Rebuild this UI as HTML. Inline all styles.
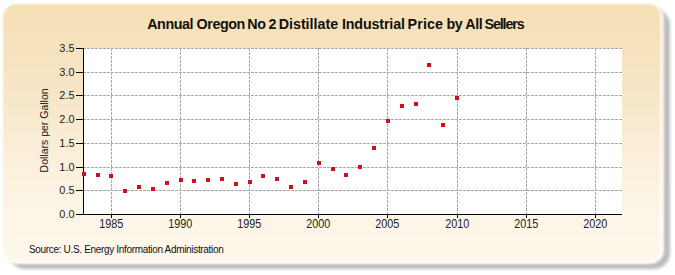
<!DOCTYPE html>
<html><head><meta charset="utf-8"><style>
html,body{margin:0;padding:0;background:#fff;width:675px;height:275px;overflow:hidden}
.box{position:absolute;left:3px;top:3.5px;width:661px;height:260px;border-radius:14px;box-sizing:border-box;
border-right:4px solid rgba(255,255,255,0.65);border-bottom:3.5px solid rgba(255,255,255,0.65);background-origin:border-box;filter:blur(0.9px);
background-image:linear-gradient(#f5dfb4 0%,#f7e6c6 33%,#fbefda 58%,#fdf5e6 80%,#fef8ec 100%);}
.shadow{position:absolute;left:8.5px;top:8.5px;width:661px;height:260px;border-radius:16px;background:rgba(0,0,0,0.26);filter:blur(1.8px)}
svg{position:absolute;left:0;top:0}
.t{font-family:"Liberation Sans",sans-serif;font-size:11px;fill:#222}
.title{font-family:"Liberation Sans",sans-serif;font-size:14.3px;letter-spacing:-0.42px;font-weight:bold;fill:#111}
.src{font-family:"Liberation Sans",sans-serif;font-size:10px;letter-spacing:-0.33px;fill:#111}
</style></head><body>
<div class="shadow"></div><div class="box"></div>
<svg width="675" height="275" viewBox="0 0 675 275">
<g class="title"><text x="147.2" y="28.9">Annual</text><text x="196.6" y="28.9">Oregon</text><text x="247.3" y="28.9">No</text><text x="268.5" y="28.9">2</text><text x="278.7" y="28.9" style="letter-spacing:-0.02px">Distillate</text><text x="341.9" y="28.9" style="letter-spacing:-0.14px">Industrial</text><text x="407.6" y="28.9" style="letter-spacing:0.1px">Price</text><text x="446.4" y="28.9">by</text><text x="465.3" y="28.9">All</text><text x="484.5" y="28.9" style="letter-spacing:-1.12px">Sellers</text></g>
<rect x="83" y="48" width="539" height="166" fill="#fff"/>
<line x1="83" x2="622" y1="190.5" y2="190.5" stroke="#a8a8a8" stroke-width="1" stroke-dasharray="3,1"/>
<line x1="83" x2="622" y1="167.5" y2="167.5" stroke="#a8a8a8" stroke-width="1" stroke-dasharray="3,1"/>
<line x1="83" x2="622" y1="143.5" y2="143.5" stroke="#a8a8a8" stroke-width="1" stroke-dasharray="3,1"/>
<line x1="83" x2="622" y1="119.5" y2="119.5" stroke="#a8a8a8" stroke-width="1" stroke-dasharray="3,1"/>
<line x1="83" x2="622" y1="95.5" y2="95.5" stroke="#a8a8a8" stroke-width="1" stroke-dasharray="3,1"/>
<line x1="83" x2="622" y1="72.5" y2="72.5" stroke="#a8a8a8" stroke-width="1" stroke-dasharray="3,1"/>
<line x1="83" x2="622" y1="48.5" y2="48.5" stroke="#a8a8a8" stroke-width="1" stroke-dasharray="3,1"/>
<line x1="111.5" x2="111.5" y1="48" y2="214" stroke="#a8a8a8" stroke-width="1" stroke-dasharray="3,1"/>
<line x1="180.5" x2="180.5" y1="48" y2="214" stroke="#a8a8a8" stroke-width="1" stroke-dasharray="3,1"/>
<line x1="249.5" x2="249.5" y1="48" y2="214" stroke="#a8a8a8" stroke-width="1" stroke-dasharray="3,1"/>
<line x1="318.5" x2="318.5" y1="48" y2="214" stroke="#a8a8a8" stroke-width="1" stroke-dasharray="3,1"/>
<line x1="387.5" x2="387.5" y1="48" y2="214" stroke="#a8a8a8" stroke-width="1" stroke-dasharray="3,1"/>
<line x1="457.5" x2="457.5" y1="48" y2="214" stroke="#a8a8a8" stroke-width="1" stroke-dasharray="3,1"/>
<line x1="526.5" x2="526.5" y1="48" y2="214" stroke="#a8a8a8" stroke-width="1" stroke-dasharray="3,1"/>
<line x1="595.5" x2="595.5" y1="48" y2="214" stroke="#a8a8a8" stroke-width="1" stroke-dasharray="3,1"/>
<line x1="83.5" x2="83.5" y1="48" y2="215" stroke="#000" stroke-width="1"/>
<line x1="83" x2="622" y1="214.5" y2="214.5" stroke="#000" stroke-width="1"/>
<line x1="76" x2="83" y1="214.5" y2="214.5" stroke="#000" stroke-width="1"/>
<text transform="translate(74.5,217.6) scale(0.95,1)" text-anchor="end" class="t" style="font-size:11.5px">0.0</text>
<line x1="76" x2="83" y1="190.5" y2="190.5" stroke="#000" stroke-width="1"/>
<text transform="translate(74.5,193.6) scale(0.95,1)" text-anchor="end" class="t" style="font-size:11.5px">0.5</text>
<line x1="76" x2="83" y1="167.5" y2="167.5" stroke="#000" stroke-width="1"/>
<text transform="translate(74.5,170.6) scale(0.95,1)" text-anchor="end" class="t" style="font-size:11.5px">1.0</text>
<line x1="76" x2="83" y1="143.5" y2="143.5" stroke="#000" stroke-width="1"/>
<text transform="translate(74.5,146.6) scale(0.95,1)" text-anchor="end" class="t" style="font-size:11.5px">1.5</text>
<line x1="76" x2="83" y1="119.5" y2="119.5" stroke="#000" stroke-width="1"/>
<text transform="translate(74.5,122.6) scale(0.95,1)" text-anchor="end" class="t" style="font-size:11.5px">2.0</text>
<line x1="76" x2="83" y1="95.5" y2="95.5" stroke="#000" stroke-width="1"/>
<text transform="translate(74.5,98.6) scale(0.95,1)" text-anchor="end" class="t" style="font-size:11.5px">2.5</text>
<line x1="76" x2="83" y1="72.5" y2="72.5" stroke="#000" stroke-width="1"/>
<text transform="translate(74.5,75.6) scale(0.95,1)" text-anchor="end" class="t" style="font-size:11.5px">3.0</text>
<line x1="76" x2="83" y1="48.5" y2="48.5" stroke="#000" stroke-width="1"/>
<text transform="translate(74.5,51.6) scale(0.95,1)" text-anchor="end" class="t" style="font-size:11.5px">3.5</text>
<line x1="111.5" x2="111.5" y1="214" y2="218" stroke="#000" stroke-width="1"/>
<text transform="translate(111.2,227.9) scale(0.9,1)" text-anchor="middle" class="t" style="font-size:12px">1985</text>
<line x1="180.5" x2="180.5" y1="214" y2="218" stroke="#000" stroke-width="1"/>
<text transform="translate(180.2,227.9) scale(0.9,1)" text-anchor="middle" class="t" style="font-size:12px">1990</text>
<line x1="249.5" x2="249.5" y1="214" y2="218" stroke="#000" stroke-width="1"/>
<text transform="translate(249.2,227.9) scale(0.9,1)" text-anchor="middle" class="t" style="font-size:12px">1995</text>
<line x1="318.5" x2="318.5" y1="214" y2="218" stroke="#000" stroke-width="1"/>
<text transform="translate(318.2,227.9) scale(0.9,1)" text-anchor="middle" class="t" style="font-size:12px">2000</text>
<line x1="387.5" x2="387.5" y1="214" y2="218" stroke="#000" stroke-width="1"/>
<text transform="translate(387.2,227.9) scale(0.9,1)" text-anchor="middle" class="t" style="font-size:12px">2005</text>
<line x1="457.5" x2="457.5" y1="214" y2="218" stroke="#000" stroke-width="1"/>
<text transform="translate(457.2,227.9) scale(0.9,1)" text-anchor="middle" class="t" style="font-size:12px">2010</text>
<line x1="526.5" x2="526.5" y1="214" y2="218" stroke="#000" stroke-width="1"/>
<text transform="translate(526.2,227.9) scale(0.9,1)" text-anchor="middle" class="t" style="font-size:12px">2015</text>
<line x1="595.5" x2="595.5" y1="214" y2="218" stroke="#000" stroke-width="1"/>
<text transform="translate(595.2,227.9) scale(0.9,1)" text-anchor="middle" class="t" style="font-size:12px">2020</text>
<rect x="82" y="172" width="4" height="4" fill="#d0101e"/>
<rect x="96" y="173" width="4" height="4" fill="#d0101e"/>
<rect x="109" y="174" width="4" height="4" fill="#d0101e"/>
<rect x="123" y="189" width="4" height="4" fill="#d0101e"/>
<rect x="137" y="185" width="4" height="4" fill="#d0101e"/>
<rect x="151" y="187" width="4" height="4" fill="#d0101e"/>
<rect x="165" y="181" width="4" height="4" fill="#d0101e"/>
<rect x="179" y="178" width="4" height="4" fill="#d0101e"/>
<rect x="192" y="179" width="4" height="4" fill="#d0101e"/>
<rect x="206" y="178" width="4" height="4" fill="#d0101e"/>
<rect x="220" y="177" width="4" height="4" fill="#d0101e"/>
<rect x="234" y="182" width="4" height="4" fill="#d0101e"/>
<rect x="248" y="180" width="4" height="4" fill="#d0101e"/>
<rect x="261" y="174" width="4" height="4" fill="#d0101e"/>
<rect x="275" y="177" width="4" height="4" fill="#d0101e"/>
<rect x="289" y="185" width="4" height="4" fill="#d0101e"/>
<rect x="303" y="180" width="4" height="4" fill="#d0101e"/>
<rect x="317" y="161" width="4" height="4" fill="#d0101e"/>
<rect x="331" y="167" width="4" height="4" fill="#d0101e"/>
<rect x="344" y="173" width="4" height="4" fill="#d0101e"/>
<rect x="358" y="165" width="4" height="4" fill="#d0101e"/>
<rect x="372" y="146" width="4" height="4" fill="#d0101e"/>
<rect x="386" y="119" width="4" height="4" fill="#d0101e"/>
<rect x="400" y="104" width="4" height="4" fill="#d0101e"/>
<rect x="414" y="102" width="4" height="4" fill="#d0101e"/>
<rect x="427" y="63" width="4" height="4" fill="#d0101e"/>
<rect x="441" y="123" width="4" height="4" fill="#d0101e"/>
<rect x="455" y="96" width="4" height="4" fill="#d0101e"/>
<text transform="translate(47.5,130.4) rotate(-90)" text-anchor="middle" class="t" style="font-size:10.5px">Dollars per Gallon</text>
<text x="29" y="252.7" class="src">Source: U.S. Energy Information Administration</text>
</svg>
</body></html>
